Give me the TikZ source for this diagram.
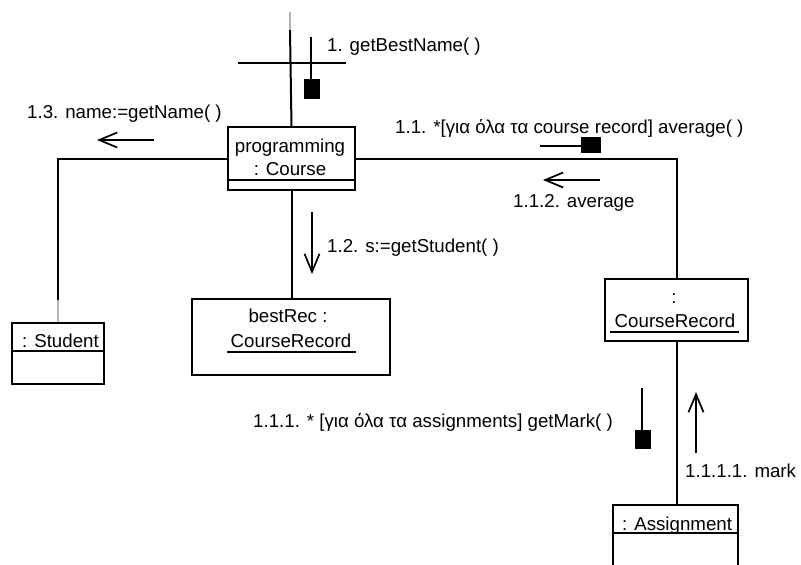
\documentclass[tikz,border=0pt]{standalone}
\usepackage{fontspec}
\setmainfont{Liberation Sans}
\usetikzlibrary{arrows.meta}
\begin{document}
\begin{tikzpicture}[x=1pt,y=-1pt,
  every node/.style={font=\fontsize{18.7}{22}\selectfont},
  objbox/.style 2 args={draw,line width=2pt,inner sep=0pt,anchor=north west,
    minimum width=#1,minimum height=#2},
  link/.style={line width=2pt},
  msg/.style={line width=1.7pt,-{Straight Barb[length=18pt,width=15pt,line width=1.7pt]}},
  lbl/.style={anchor=base west,inner sep=0pt},
  txt/.style={anchor=base,inner sep=0pt},
  sync/.style={fill=black}
]
\clip (0,0) rectangle (801,565);
\fill[white] (0,0) rectangle (801,565);

% object boxes
\node[objbox={127pt}{63pt}] (course) at (227,126) {};
\node[objbox={92pt}{61pt}] (student) at (11,322) {};
\node[objbox={198pt}{76pt}] (best) at (191,298) {};
\node[objbox={143pt}{62pt}] (crec) at (604,278) {};
\node[objbox={125pt}{90pt}] (assign) at (612,504) {};

% compartment separators
\draw[link] (course.west |- 0,180) -- (course.east |- 0,180);
\draw[link] (student.west |- 0,351) -- (student.east |- 0,351);
\draw[link] (assign.west |- 0,533) -- (assign.east |- 0,533);

% object names
\node[txt] (tprog) at (290,152) {programming};
\node[txt] (tcourse) at (290,175) {: Course};
\node[txt] (tbest) at (288,322) {bestRec :};
\node[txt] (tbestcls) at (291,347) {CourseRecord};
\draw[line width=1.5pt] (227,352) -- (356,352);
\node[lbl] (tstudent) at (22,347) {: Student};
\node[txt] (tcolon) at (674,303) {:};
\node[txt] (tcrec) at (675,327) {CourseRecord};
\draw[line width=1.5pt] (610,332) -- (739,332);
\node[lbl] (tassign) at (622,530) {: Assignment};

% links between objects
\coordinate (top) at (290,12);
\coordinate (topfade) at (290,30);
\draw[link] (topfade) -- (course.north);
\draw[link,gray!60] (top) -- (topfade);
\draw[link] (course.west) -| (student.north);
\draw[link,gray!55] (student.north) ++(0,-22) coordinate (sfade) -- (student.north);
\draw[link] (course.east) -| (crec.north);
\draw[link] (course.south) -- (course.south |- best.north);
\draw[link] (crec.south) -- (crec.south |- assign.north);

% message 1 (incoming call)
\coordinate (c1a) at (238,63);
\coordinate (c1b) at (346,63);
\draw[line width=1.7pt] (c1a) -- (c1b);
\coordinate (m1top) at (311,37);
\coordinate (m1bot) at (311,80);
\draw[line width=1.7pt] (m1top) -- (m1bot);
\fill[sync] (304,79) rectangle (320,99);
\node[lbl] (l1) at (327,51) {1. getBestName( )};

% message 1.3
\coordinate (m13a) at (154,140);
\coordinate (m13b) at (97,140);
\draw[msg] (m13a) -- (m13b);
\node[lbl] (l13) at (27,118) {1.3. name:=getName( )};

% message 1.1
\coordinate (m11a) at (540,146);
\coordinate (m11b) at (581,146);
\draw[line width=1.7pt] (m11a) -- (m11b);
\fill[sync] (581,137) rectangle (601,153);
\node[lbl] (l11) at (395,133) {1.1. *[για όλα τα course record] average( )};

% message 1.1.2
\coordinate (m112a) at (600,180);
\coordinate (m112b) at (543,180);
\draw[msg] (m112a) -- (m112b);
\node[lbl] (l112) at (513,207) {1.1.2. average};

% message 1.2
\coordinate (m12a) at (312,212);
\coordinate (m12b) at (312,274);
\draw[msg] (m12a) -- (m12b);
\node[lbl] (l12) at (327,252) {1.2. s:=getStudent( )};

% message 1.1.1
\coordinate (m111a) at (642,388);
\coordinate (m111b) at (642,430);
\draw[line width=1.7pt] (m111a) -- (m111b);
\fill[sync] (635,430) rectangle (651,449);
\node[lbl] (l111) at (253,427) {1.1.1. * [για όλα τα assignments] getMark( )};

% message 1.1.1.1
\coordinate (m1111a) at (696,453);
\coordinate (m1111b) at (696,392);
\draw[msg] (m1111a) -- (m1111b);
\node[lbl] (l1111) at (685,477) {1.1.1.1. mark};
\end{tikzpicture}
\end{document}
